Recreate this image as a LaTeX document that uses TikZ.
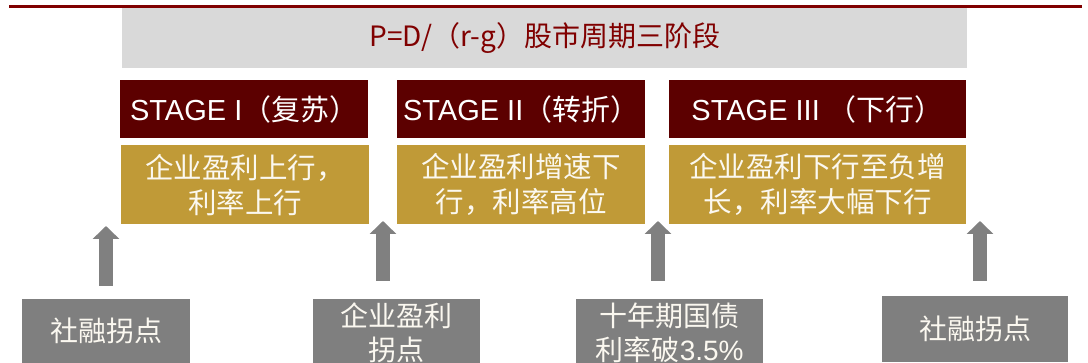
\documentclass[tikz,border=0pt]{standalone}
\usepackage{fontspec}
\setmainfont{Liberation Sans}
\newfontfamily\cjk{Noto Sans CJK SC}
\usetikzlibrary{arrows.meta}
\definecolor{linered}{HTML}{800000}
\definecolor{stagered}{HTML}{5C0000}
\definecolor{titlegray}{HTML}{D9D9D9}
\definecolor{goldc}{HTML}{C09A37}
\definecolor{midgray}{HTML}{7F7F7F}
\definecolor{arrowgray}{HTML}{808080}
\definecolor{softwhite}{HTML}{FBF8F0}
\begin{document}
\begin{tikzpicture}[x=1pt,y=-1pt,
  rect/.style={draw=none, inner sep=0pt, anchor=north west, align=center},
  stagebox/.style={rect, fill=stagered, text=white, font=\fontsize{29}{33}\selectfont},
  descbox/.style={rect, fill=goldc, text=softwhite, font=\cjk\fontsize{28.5}{35}\selectfont},
  triggerbox/.style={rect, fill=midgray, text=softwhite, font=\cjk\fontsize{28}{34}\selectfont},
  uparrow/.style={draw=arrowgray, line width=14pt, -{Triangle[width=26pt,length=13pt]}}
]
\useasboundingbox (0,0) rectangle (1088,363);
\clip (0,0) rectangle (1088,363);
% title
\node[rect, fill=titlegray, minimum width=845pt, minimum height=61pt,
      text=linered, font=\cjk\fontsize{28}{32}\selectfont] (title) at (122,7)
      {P=D/（r-g）股市周期三阶段};
\draw[linered, line width=3pt] (9,6.5) -- (1082,6.5);
% stages
\node[stagebox, minimum width=248pt, minimum height=58pt] (s1) at (120,80)
  {STAGE I{\cjk（复苏）}};
\node[stagebox, minimum width=248pt, minimum height=58pt] (s2) at (397,80)
  {STAGE II{\cjk（转折）}};
\node[stagebox, minimum width=297pt, minimum height=58pt] (s3) at (669,80)
  {STAGE III {\cjk（下行）}};
% descriptions
\node[descbox, minimum width=248pt, minimum height=79pt] (d1) at (121,145)
  {企业盈利上行，\\利率上行};
\node[descbox, minimum width=248pt, minimum height=79pt] (d2) at (397,145)
  {企业盈利增速下\\行，利率高位};
\node[descbox, minimum width=297pt, minimum height=79pt] (d3) at (669,145)
  {企业盈利下行至负增\\长，利率大幅下行};
% triggers
\node[triggerbox, minimum width=168pt, minimum height=64pt] (t1) at (22,299)
  {社融拐点};
\node[triggerbox, minimum width=167pt, minimum height=68pt] (t2) at (313,299)
  {企业盈利\\拐点};
\node[triggerbox, minimum width=187pt, minimum height=68pt] (t3) at (576,299)
  {十年期国债\\利率破{\rmfamily 3.5\%}};
\node[triggerbox, minimum width=186pt, minimum height=66pt] (t4) at (882,296)
  {社融拐点};
% arrows
\coordinate (a1b) at (106,286); \coordinate (a1t) at (106,226);
\coordinate (a2b) at (383,281); \coordinate (a2t) at (383,221);
\coordinate (a3b) at (658,281); \coordinate (a3t) at (658,221);
\coordinate (a4b) at (980,281); \coordinate (a4t) at (980,221);
\draw[uparrow] (a1b) -- (a1t);
\draw[uparrow] (a2b) -- (a2t);
\draw[uparrow] (a3b) -- (a3t);
\draw[uparrow] (a4b) -- (a4t);
\end{tikzpicture}
\end{document}
